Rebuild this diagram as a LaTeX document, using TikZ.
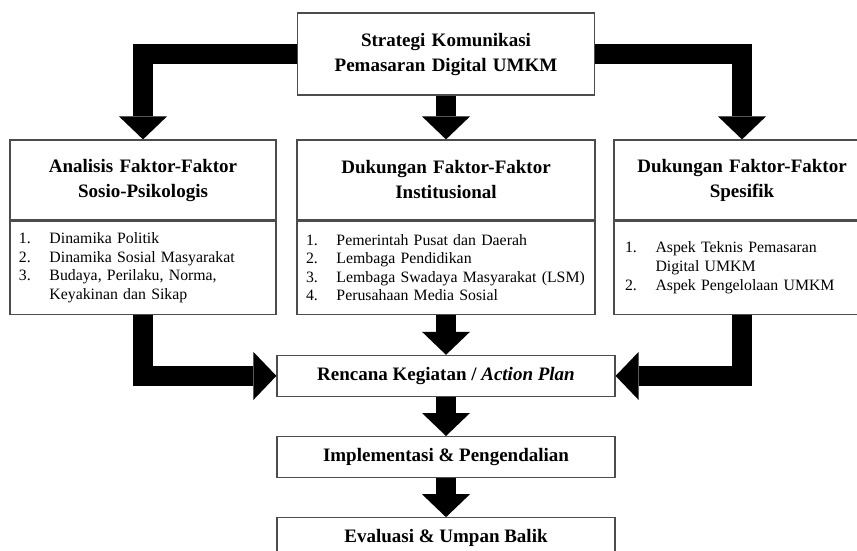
\documentclass[tikz,border=0pt]{standalone}
\usepackage{fontspec}
\setmainfont{Liberation Serif}
\usetikzlibrary{positioning, arrows.meta}

\newcommand{\numitem}[2]{\makebox[30.5pt][l]{#1}#2}
\newcommand{\contline}[1]{\hspace*{30.5pt}#1}

\begin{document}
\begin{tikzpicture}[
    x=1pt, y=1pt,
    plainbox/.style={draw=black!70, line width=1.2pt, inner sep=0pt},
    headbox/.style={plainbox, align=center, minimum height=80pt,
        font=\bfseries\fontsize{19}{25}\selectfont},
    listbox/.style={plainbox, align=left, minimum height=93pt, inner xsep=9pt,
        font=\fontsize{15.8}{18.6}\selectfont},
    stagebox/.style={plainbox, minimum width=338pt, minimum height=41pt,
        font=\bfseries\fontsize{19}{23}\selectfont},
    blockarrow/.style={line width=20pt,
        -{Triangle[width=48pt, length=23pt, line width=0pt]}}
]
\useasboundingbox (0,0) rectangle (857,-550);

% strategi di atas
\node[plainbox, align=center, text width=297pt, minimum height=82pt,
    font=\bfseries\fontsize{19}{25}\selectfont] (strategi) at (446,-54)
    {Strategi Komunikasi\\Pemasaran Digital UMKM};

% tiga kolom faktor
\node[headbox, text width=266pt] (sosiohd) at (143,-180)
    {Analisis Faktor-Faktor\\Sosio-Psikologis};
\node[listbox, text width=248pt, below=0pt of sosiohd] (sosiols)
    {\numitem{1.}{Dinamika Politik}\\
     \numitem{2.}{Dinamika Sosial Masyarakat}\\
     \numitem{3.}{Budaya, Perilaku, Norma,}\\
     \contline{Keyakinan dan Sikap}};

\node[headbox, text width=298pt] (insthd) at (446,-180)
    {Dukungan Faktor-Faktor\\Institusional};
\node[listbox, text width=280pt, below=0pt of insthd] (instls)
    {\numitem{1.}{Pemerintah Pusat dan Daerah}\\
     \numitem{2.}{Lembaga Pendidikan}\\
     \numitem{3.}{Lembaga Swadaya Masyarakat (LSM)}\\
     \numitem{4.}{Perusahaan Media Sosial}};

\node[headbox, text width=256pt] (spesifhd) at (742,-180)
    {Dukungan Faktor-Faktor\\Spesifik};
\node[listbox, text width=234pt, inner xsep=11pt, below=0pt of spesifhd] (spesifls)
    {\numitem{1.}{Aspek Teknis Pemasaran}\\
     \contline{Digital UMKM}\\
     \numitem{2.}{Aspek Pengelolaan UMKM}};

% tahapan
\node[stagebox, below=40pt of instls] (rencana)
    {Rencana Kegiatan / \textit{Action Plan}};
\node[stagebox, below=39pt of rencana] (implementasi)
    {Implementasi \& Pengendalian};
\node[stagebox, below=39pt of implementasi] (evaluasi)
    {Evaluasi \& Umpan Balik};

% panah
\draw[blockarrow] (strategi.west) -| (sosiohd.north);
\draw[blockarrow] (strategi.south) -- (insthd.north);
\draw[blockarrow] (strategi.east) -| (spesifhd.north);
\draw[blockarrow] (sosiols.south) |- (rencana.west);
\draw[blockarrow] (spesifls.south) |- (rencana.east);
\draw[blockarrow] (instls.south) -- (rencana.north);
\draw[blockarrow] (rencana.south) -- (implementasi.north);
\draw[blockarrow] (implementasi.south) -- (evaluasi.north);
\end{tikzpicture}
\end{document}
